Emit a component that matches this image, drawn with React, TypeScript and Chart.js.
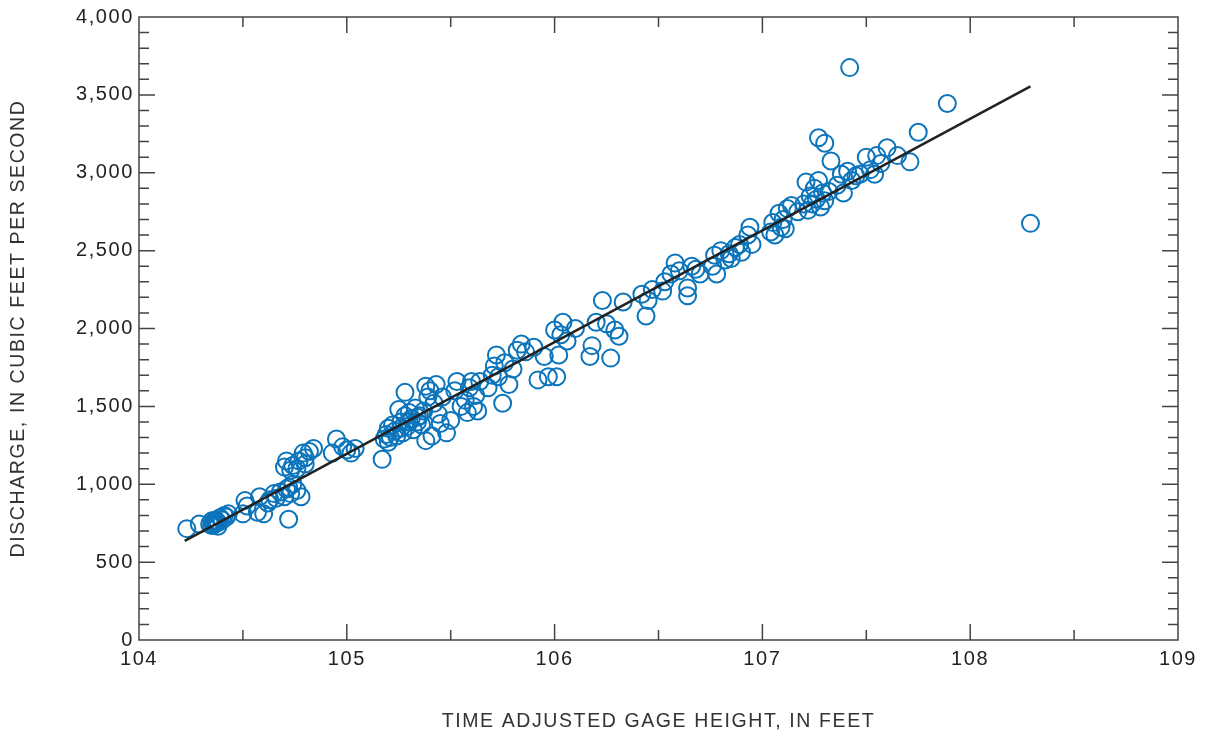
import React, { useEffect, useRef } from "react";
import { Chart, registerables } from "chart.js";

Chart.register(...registerables);

// Observed measurements: time-adjusted gage height (ft) and discharge (ft3/s)
const gageHeight: number[] = [
  104.23, 104.29, 104.34, 104.35, 104.36, 104.36, 104.37, 104.38, 104.38, 104.39, 104.40, 104.41, 104.42, 104.43, 104.35, 104.37,
  104.50, 104.51, 104.52, 104.57, 104.58, 104.60, 104.62, 104.63, 104.65, 104.66, 104.68, 104.70, 104.71, 104.72, 104.73, 104.74,
  104.72, 104.70, 104.71, 104.73, 104.74, 104.76, 104.77, 104.79, 104.80, 104.82, 104.78, 104.76, 104.80, 104.84,
  104.93, 104.95, 104.98, 105.00, 105.02, 105.04,
  105.17, 105.18, 105.19, 105.20, 105.20, 105.21, 105.22, 105.23, 105.24, 105.25, 105.26, 105.27, 105.28, 105.28, 105.29, 105.30,
  105.31, 105.32, 105.33, 105.34, 105.35, 105.36, 105.37, 105.38, 105.38, 105.39, 105.40, 105.41, 105.42, 105.43, 105.44, 105.45,
  105.46, 105.48, 105.26, 105.30, 105.34,
  105.50, 105.52, 105.53, 105.55, 105.57, 105.58, 105.59, 105.60, 105.61, 105.62, 105.63, 105.64, 105.68, 105.70, 105.71, 105.72,
  105.73, 105.75, 105.76, 105.78, 105.80, 105.82, 105.84, 105.86, 105.90, 105.92, 105.95, 105.97,
  106.00, 106.01, 106.02, 106.03, 106.04, 106.06, 106.10, 106.17, 106.18, 106.20, 106.23, 106.25, 106.27, 106.29, 106.31, 106.33,
  106.42, 106.44, 106.45, 106.47, 106.52, 106.53, 106.56, 106.58, 106.60, 106.64, 106.64, 106.66, 106.68, 106.70,
  106.76, 106.77, 106.78, 106.80, 106.82, 106.84, 106.85, 106.87, 106.89, 106.90, 106.93, 106.94, 106.95,
  107.04, 107.05, 107.06, 107.08, 107.09, 107.10, 107.11, 107.12, 107.14, 107.17, 107.20, 107.21, 107.22, 107.23, 107.24, 107.25,
  107.26, 107.27, 107.28, 107.29, 107.30, 107.27, 107.30, 107.33, 107.32,
  107.36, 107.38, 107.39, 107.41, 107.42, 107.43, 107.45, 107.47, 107.50, 107.52, 107.54, 107.55, 107.57, 107.60, 107.65, 107.71,
  107.75, 107.89, 108.29,
];

const discharge: number[] = [
  715, 745, 745, 735, 760, 740, 770, 755, 730, 785, 770, 800, 790, 810, 765, 750,
  810, 895, 860, 820, 920, 810, 880, 900, 940, 910, 950, 920, 970, 980, 940, 1000,
  775, 1110, 1150, 1090, 1120, 1100, 1150, 1200, 1170, 1210, 920, 960, 1130, 1230,
  1200, 1290, 1240, 1220, 1200, 1230,
  1160, 1290, 1320, 1360, 1270, 1300, 1380, 1340, 1310, 1480, 1400, 1330, 1590, 1440, 1370, 1460,
  1420, 1350, 1490, 1400, 1440, 1380, 1470, 1280, 1630, 1560, 1600, 1310, 1520, 1640, 1450, 1390,
  1560, 1330, 1360, 1400, 1430,
  1410, 1600, 1660, 1500, 1540, 1460, 1620, 1660, 1500, 1570, 1470, 1660, 1620, 1700, 1760, 1830,
  1690, 1520, 1780, 1640, 1740, 1860, 1900, 1850, 1880, 1670, 1820, 1690,
  1990, 1690, 1830, 1960, 2040, 1920, 2000, 1820, 1890, 2040, 2180, 2030, 1810, 1990, 1950, 2170,
  2220, 2080, 2180, 2250, 2240, 2300, 2350, 2420, 2370, 2210, 2260, 2400, 2380, 2350,
  2400, 2470, 2350, 2500, 2440, 2480, 2450, 2520, 2540, 2490, 2600, 2650, 2540,
  2620, 2680, 2600, 2740, 2650, 2700, 2640, 2770, 2790, 2750, 2800, 2940, 2760, 2850, 2800, 2900,
  2830, 2950, 2780, 2870, 2820, 3225, 3190, 3075, 2880,
  2920, 2990, 2870, 3010, 3675, 2950, 2980, 2990, 3100, 3020, 2990, 3110, 3060, 3160, 3110, 3070,
  3260, 3445, 2675,
];

// Fitted rating line end points
const fitX: number[] = [104.22, 108.29];
const fitY: number[] = [637, 3555];

const xTicks: number[] = [104, 105, 106, 107, 108, 109];
const yTicks: number[] = [0, 500, 1000, 1500, 2000, 2500, 3000, 3500, 4000];

const FONT = "'Liberation Sans', Arial, Helvetica, sans-serif";

const framePlugin = {
  id: "frameTicks",
  beforeDraw(chart: any) {
    try {
      chart.ctx.letterSpacing = "1.6px";
    } catch (e) {}
  },
  afterDatasetsDraw(chart: any) {
    const { ctx, chartArea, scales } = chart;
    const { left, right, top, bottom } = chartArea;
    const xs = scales.x;
    const ys = scales.y;
    ctx.save();
    ctx.strokeStyle = "#444444";
    ctx.lineWidth = 1.5;
    ctx.beginPath();
    ctx.rect(left, top, right - left, bottom - top);
    ctx.stroke();
    ctx.beginPath();
    for (let v = 100; v < 4000; v += 100) {
      const py = ys.getPixelForValue(v);
      const len = v % 500 === 0 ? 16 : 10;
      ctx.moveTo(left, py);
      ctx.lineTo(left + len, py);
      ctx.moveTo(right, py);
      ctx.lineTo(right - len, py);
    }
    for (let i = 1; i < 10; i++) {
      const v = 104 + i * 0.5;
      const px = xs.getPixelForValue(v);
      const len = i % 2 === 0 ? 16 : 10;
      ctx.moveTo(px, bottom);
      ctx.lineTo(px, bottom - len);
      ctx.moveTo(px, top);
      ctx.lineTo(px, top + len);
    }
    ctx.stroke();
    ctx.restore();
  },
};

export default function App() {
  const canvasRef = useRef<HTMLCanvasElement | null>(null);

  useEffect(() => {
    if (!canvasRef.current) return;
    const points = gageHeight.map((x, i) => ({ x, y: discharge[i] }));
    const fit = fitX.map((x, i) => ({ x, y: fitY[i] }));

    const chart = new Chart(canvasRef.current, {
      type: "scatter",
      data: {
        datasets: [
          {
            label: "Measurements",
            data: points,
            pointStyle: "circle",
            pointRadius: 8.5,
            pointBorderWidth: 2,
            pointBackgroundColor: "rgba(0,0,0,0)",
            pointBorderColor: "#0b74bb",
            borderColor: "#0b74bb",
            backgroundColor: "rgba(0,0,0,0)",
            order: 2,
          },
          {
            label: "Fit",
            data: fit,
            showLine: true,
            borderColor: "#222222",
            borderWidth: 2.5,
            pointRadius: 0,
            order: 1,
          } as any,
        ],
      },
      options: {
        animation: false,
        responsive: true,
        maintainAspectRatio: false,
        layout: { padding: { top: 16, right: 30, bottom: 0, left: 0 } },
        plugins: {
          legend: { display: false },
          tooltip: { enabled: false },
        },
        scales: {
          x: {
            type: "linear",
            min: 104,
            max: 109,
            afterBuildTicks: (scale: any) => {
              scale.ticks = xTicks.map((v) => ({ value: v }));
            },
            afterFit: (scale: any) => {
              scale.height = 96;
            },
            grid: { display: false, drawTicks: false },
            border: { display: false },
            ticks: {
              padding: 7,
              color: "#222222",
              font: { family: FONT, size: 20 },
              callback: (v: any) => String(v),
            },
            title: {
              display: true,
              text: "TIME ADJUSTED GAGE HEIGHT, IN FEET",
              color: "#333333",
              font: { family: FONT, size: 19.5 },
              padding: { top: 0, bottom: 3 },
            },
          },
          y: {
            type: "linear",
            min: 0,
            max: 4000,
            afterBuildTicks: (scale: any) => {
              scale.ticks = yTicks.map((v) => ({ value: v }));
            },
            afterFit: (scale: any) => {
              scale.width = 139;
            },
            grid: { display: false, drawTicks: false },
            border: { display: false },
            ticks: {
              padding: 5,
              color: "#222222",
              font: { family: FONT, size: 20 },
              callback: (v: any) => Number(v).toLocaleString("en-US"),
            },
            title: {
              display: true,
              text: "DISCHARGE, IN CUBIC FEET PER SECOND",
              color: "#333333",
              font: { family: FONT, size: 19.5 },
              padding: { top: 7, bottom: 0 },
            },
          },
        },
      },
      plugins: [framePlugin],
    });

    return () => chart.destroy();
  }, []);

  return (
    <div style={{ position: "absolute", left: 0, top: 0, width: 1208, height: 736, background: "#ffffff" }}>
      <canvas ref={canvasRef} />
    </div>
  );
}
